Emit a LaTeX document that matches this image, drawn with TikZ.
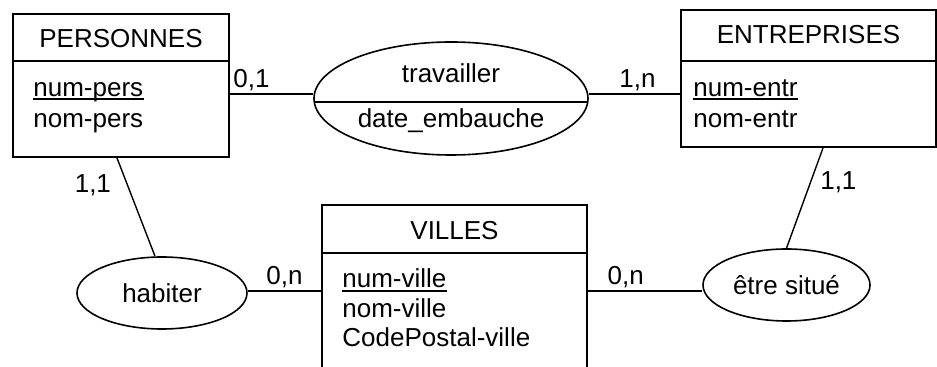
\documentclass[tikz,border=0pt]{standalone}
\usepackage{fontspec}
\setmainfont{Liberation Sans}
\usetikzlibrary{shapes.geometric}

\begin{document}
\begin{tikzpicture}[x=0.5pt,y=-0.5pt,font=\fontsize{13}{15}\selectfont,
  entite/.style={draw,line width=1pt,inner sep=0pt},
  assoc/.style={draw,ellipse,line width=0.8pt,inner sep=0pt},
  attr/.style={anchor=base west,inner sep=0pt},
  lien/.style={line width=1.4pt},
  patte/.style={line width=0.7pt},
  card/.style={inner sep=1pt}]
  \useasboundingbox (0,0) rectangle (937,367);
  % entites
  \node[entite,minimum width=108pt,minimum height=71.5pt] (pers) at (121,85.5) {};
  \node[entite,minimum width=127.5pt,minimum height=68.5pt] (entr) at (808.5,78.5) {};
  \node[entite,minimum width=132.5pt,minimum height=90pt] (vill) at (454.5,295) {};
  \draw[line width=0.8pt] (13,61) -- (229,61);
  \draw[line width=0.8pt] (681,61) -- (936,61);
  \draw[line width=0.8pt] (322,253) -- (587,253);
  \node[anchor=base] (pers-t) at (121,48) {PERSONNES};
  \node[anchor=base] (entr-t) at (808.5,44) {ENTREPRISES};
  \node[anchor=base] (vill-t) at (454.5,240) {VILLES};
  \node[attr] (pers-a1) at (33,96.5) {num-pers};
  \node[attr] (pers-a2) at (33,128) {nom-pers};
  \node[attr] (entr-a1) at (693,96.5) {num-entr};
  \node[attr] (entr-a2) at (693,128) {nom-entr};
  \node[attr] (vill-a1) at (342,288) {num-ville};
  \node[attr] (vill-a2) at (342,318) {nom-ville};
  \node[attr] (vill-a3) at (342,347) {CodePostal-ville};
  % identifiants soulignes
  \foreach \a in {pers-a1,entr-a1,vill-a1}
    \draw[line width=1pt] ([yshift=-1.4pt]\a.base west) -- ([yshift=-1.4pt]\a.base east);
  % associations
  \node[assoc,minimum width=137pt,minimum height=56.5pt] (trav) at (451,98.5) {};
  \draw[line width=0.8pt] (314.3,102) -- (587.7,102);
  \node[anchor=base] (trav-t) at (451,83) {travailler};
  \node[anchor=base] (trav-a) at (451,128) {date\_embauche};
  \node[assoc,minimum width=85pt,minimum height=36pt] (hab) at (162,293) {habiter};
  \node[assoc,minimum width=83.5pt,minimum height=36pt] (situe) at (786.5,285) {être situé};
  % liens
  \coordinate (h1) at (0,94);
  \coordinate (h2) at (0,291);
  \draw[lien] (pers.east |- h1) -- node[card,above right,pos=0]{0,1} (trav.west |- h1);
  \draw[lien] (trav.east |- h1) -- node[card,above left,pos=0.77]{1,n} (entr.west |- h1);
  \draw[lien] (hab.east |- h2) -- node[card,above]{0,n} (vill.west |- h2);
  \draw[lien] (vill.east |- h2) -- node[card,above,pos=0.33]{0,n} (situe.west |- h2);
  \draw[patte] ([xshift=-2pt]pers.south) -- node[card,left=7pt,pos=0.28]{1,1} ([xshift=-3.5pt]hab.north);
  \draw[patte] ([xshift=7.25pt]entr.south) -- node[card,right=3.5pt,pos=0.34]{1,1} (situe.north);
\end{tikzpicture}
\end{document}
